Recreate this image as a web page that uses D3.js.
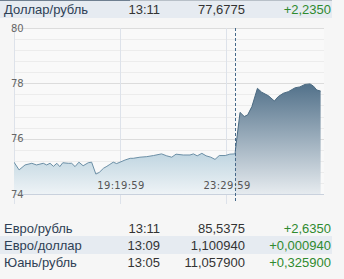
<!DOCTYPE html>
<html>
<head>
<meta charset="utf-8">
<script src="https://cdn.jsdelivr.net/npm/d3@7"></script>
<style>
  body { margin: 0; background: #f6f6f6; }
  svg { display: block; }
</style>
</head>
<body>
<svg id="chart" width="344" height="279"></svg>
<script>
// quote table rows
const pairNames = ["Доллар/рубль", "Евро/рубль", "Евро/доллар", "Юань/рубль"];
const quoteTimes = ["13:11", "13:11", "13:09", "13:05"];
const quoteValues = ["77,6775", "85,5375", "1,100940", "11,057900"];
const quoteChanges = ["+2,2350", "+2,6350", "+0,000940", "+0,325900"];

// intraday USD/RUB series
const times = ["15:10", "15:22", "15:36", "15:52", "16:03", "16:19", "16:27", "16:35", "16:43", "16:51",
  "16:58", "17:05", "17:18", "17:26", "17:34", "17:43", "17:53", "18:05", "18:13", "18:23",
  "18:31", "18:41", "18:49", "18:56", "19:04", "19:12", "19:20", "19:32", "19:44", "19:51",
  "20:07", "20:23", "20:39", "20:58", "21:10", "21:22", "21:32", "21:49", "22:05", "22:13",
  "22:22", "22:33", "22:43", "22:54", "23:04", "23:14", "23:28", "23:39", "23:51", "00:03",
  "00:13", "00:21", "00:31", "00:44", "00:54", "01:10", "01:24", "01:33", "01:45", "01:57",
  "02:13", "02:24", "02:36", "02:48", "02:56", "03:04", "03:13"];
const rates = [75.15, 74.87, 75.05, 75.11, 75.05, 75.11, 75.05, 75.11, 75.00, 75.11,
  74.99, 75.13, 75.11, 75.11, 74.99, 75.15, 75.02, 75.13, 75.15, 74.72,
  74.78, 74.93, 75.00, 75.07, 75.15, 75.10, 75.15, 75.23, 75.29, 75.29,
  75.33, 75.35, 75.39, 75.45, 75.38, 75.33, 75.44, 75.41, 75.41, 75.45,
  75.38, 75.47, 75.38, 75.33, 75.25, 75.39, 75.39, 75.44, 75.45, 76.95,
  76.80, 76.86, 77.16, 77.82, 77.68, 77.55, 77.36, 77.52, 77.64, 77.70,
  77.84, 77.87, 77.96, 77.98, 77.90, 77.76, 77.72];
const tickTimes = ["19:19:59", "23:29:59"];
const yTicks = [74, 76, 78, 80];
const splitTime = "23:51";

const svg = d3.select("#chart");
const parseT = d3.timeParse("%Y-%m-%d %H:%M:%S");
// times after midnight belong to the next day
function toDate(s) {
  const full = s.length === 5 ? s + ":00" : s;
  const day = +full.slice(0, 2) < 12 ? "2020-01-02" : "2020-01-01";
  return parseT(day + " " + full);
}
const data = times.map((t, i) => ({ date: toDate(t), value: rates[i] }));

const pLeft = 14, pRight = 324, pTop = 28, pBottom = 194;
const x = d3.scaleTime()
  .domain([toDate("15:09:59"), toDate("03:20:59")])
  .range([pLeft, pRight]);
const y = d3.scaleLinear().domain([74, 80]).range([pBottom, pTop]);
const splitX = x(toDate(splitTime));

// ---- table rows ----
const tableFont = "'Liberation Sans', Arial, sans-serif";
function drawRow(i, cy, shaded) {
  const g = svg.append("g");
  if (shaded) {
    g.append("rect").attr("x", 0).attr("y", cy - 9).attr("width", 332).attr("height", 18)
      .attr("fill", "#e6ebf1");
  }
  const t = g.append("g").attr("font-family", tableFont).attr("font-size", 13)
    .attr("dominant-baseline", "central");
  t.append("text").attr("x", 4).attr("y", cy).attr("fill", "#2e3f55").text(pairNames[i]);
  t.append("text").attr("x", 160).attr("y", cy).attr("text-anchor", "end").attr("fill", "#333").text(quoteTimes[i]);
  t.append("text").attr("x", 245).attr("y", cy).attr("text-anchor", "end").attr("fill", "#333").text(quoteValues[i]);
  t.append("text").attr("x", 331).attr("y", cy).attr("text-anchor", "end").attr("fill", "#2f8a2f").text(quoteChanges[i]);
}
drawRow(0, 9, true);
svg.append("rect").attr("x", 0).attr("y", 0).attr("width", 130).attr("height", 1).attr("fill", "#6f7f90");
svg.append("rect").attr("x", 130).attr("y", 0).attr("width", 202).attr("height", 1).attr("fill", "#b8c0c8");
drawRow(1, 228, false);
drawRow(2, 245, true);
drawRow(3, 262, false);

// ---- chart ----
const plot = svg.append("g");
plot.append("rect").attr("x", pLeft).attr("y", pTop).attr("width", pRight - pLeft).attr("height", pBottom - pTop)
  .attr("fill", "#f9f9f9");

// minor grid every 0.4
const minor = d3.range(0, 16).map(i => 74 + i * 0.4);
plot.selectAll(".minor").data(minor).join("line")
  .attr("x1", pLeft).attr("x2", pRight)
  .attr("y1", d => Math.round(y(d)) + 0.5).attr("y2", d => Math.round(y(d)) + 0.5)
  .attr("stroke", "#ececec");
plot.selectAll(".major").data(yTicks).join("line")
  .attr("x1", pLeft).attr("x2", pRight)
  .attr("y1", d => Math.round(y(d)) + 0.5).attr("y2", d => Math.round(y(d)) + 0.5)
  .attr("stroke", "#dcdcdc");

const tickDates = tickTimes.map(toDate);
plot.selectAll(".vgrid").data(tickDates).join("line")
  .attr("x1", d => Math.round(x(d)) + 0.5).attr("x2", d => Math.round(x(d)) + 0.5)
  .attr("y1", pTop).attr("y2", pBottom + 10)
  .attr("stroke", "#dde2ea");
plot.append("line").attr("x1", pLeft + 0.5).attr("x2", pLeft + 0.5).attr("y1", pTop).attr("y2", pBottom + 10)
  .attr("stroke", "#dde2ea");

// gradients
const defs = svg.append("defs");
const lg = defs.append("linearGradient").attr("id", "gLeft").attr("gradientUnits", "userSpaceOnUse")
  .attr("x1", 0).attr("x2", 0).attr("y1", 150).attr("y2", pBottom);
lg.append("stop").attr("offset", 0).attr("stop-color", "#bcd3df");
lg.append("stop").attr("offset", 1).attr("stop-color", "#eef3f6");
const rg = defs.append("linearGradient").attr("id", "gRight").attr("gradientUnits", "userSpaceOnUse")
  .attr("x1", 0).attr("x2", 0).attr("y1", 84).attr("y2", pBottom);
rg.append("stop").attr("offset", 0).attr("stop-color", "#52718a");
rg.append("stop").attr("offset", 1).attr("stop-color", "#e6ebef");
defs.append("clipPath").attr("id", "cLeft").append("rect")
  .attr("x", pLeft).attr("y", 0).attr("width", splitX - pLeft).attr("height", 279);
defs.append("clipPath").attr("id", "cRight").append("rect")
  .attr("x", splitX).attr("y", 0).attr("width", pRight - splitX).attr("height", 279);

const area = d3.area().x(d => x(d.date)).y0(pBottom).y1(d => y(d.value));
const line = d3.line().x(d => x(d.date)).y(d => y(d.value));

plot.append("path").datum(data).attr("d", area).attr("fill", "url(#gLeft)").attr("clip-path", "url(#cLeft)");
plot.append("path").datum(data).attr("d", area).attr("fill", "url(#gRight)").attr("clip-path", "url(#cRight)");
plot.append("path").datum(data).attr("d", line).attr("fill", "none")
  .attr("stroke", "#6b8fa6").attr("stroke-width", 1).attr("clip-path", "url(#cLeft)");
plot.append("path").datum(data).attr("d", line).attr("fill", "none")
  .attr("stroke", "#4c6b82").attr("stroke-width", 1).attr("clip-path", "url(#cRight)");

// bottom axis line
plot.append("line").attr("x1", pLeft).attr("x2", pRight).attr("y1", pBottom + 0.5).attr("y2", pBottom + 0.5)
  .attr("stroke", "#c9d1dd");

// session split
plot.append("line").attr("x1", Math.round(splitX) + 0.5).attr("x2", Math.round(splitX) + 0.5)
  .attr("y1", pTop).attr("y2", pBottom + 9)
  .attr("stroke", "#46698a").attr("stroke-dasharray", "3,2");

// labels
const labFont = "'DejaVu Sans', sans-serif";
const fmt = d3.timeFormat("%H:%M:%S");
plot.selectAll(".xl").data(tickDates).join("text")
  .attr("x", d => x(d) + 1).attr("y", pBottom - 5)
  .attr("text-anchor", "middle").attr("font-family", labFont).attr("font-size", 10)
  .attr("letter-spacing", 0.3).attr("fill", "#555").text(d => fmt(d));
plot.selectAll(".yl").data(yTicks).join("text")
  .attr("x", 11).attr("y", d => y(d)).attr("dominant-baseline", "central")
  .attr("font-family", labFont).attr("font-size", 10).attr("fill", "#666").text(d => d);
</script>
</body>
</html>
